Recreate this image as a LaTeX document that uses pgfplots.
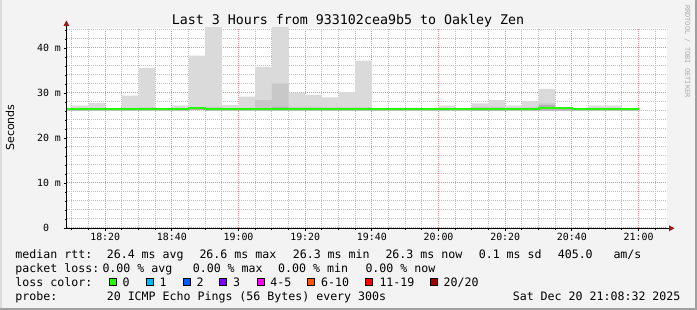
\documentclass[border=0pt]{standalone}
\usepackage{fontspec}
\setmainfont{DejaVu Sans Mono}
\newfontfamily\dvsans{DejaVu Sans}
\usepackage{xcolor}
\usepackage{pgfplots}
\pgfplotsset{compat=1.18}
\usepackage{pgfplotstable}
\usepgfplotslibrary{fillbetween}

\definecolor{bg}{HTML}{F3F3F3}
\definecolor{bordark}{HTML}{A0A0A0}
\definecolor{borlight}{HTML}{DCDCDC}
\definecolor{majgrid}{HTML}{F28888}
\definecolor{mingrid}{HTML}{BEBEBE}
\definecolor{arrowred}{HTML}{9B1C1C}
\definecolor{smokeA}{HTML}{DADADA}
\definecolor{smokeB}{HTML}{C8C8C8}
\definecolor{smokeC}{HTML}{B2B2B2}
\definecolor{credit}{HTML}{ADADAD}
\definecolor{lc0}{HTML}{26FF00}
\definecolor{lc1}{HTML}{00B8FF}
\definecolor{lc2}{HTML}{0059FF}
\definecolor{lc3}{HTML}{7E00FF}
\definecolor{lc4}{HTML}{FF00FF}
\definecolor{lc6}{HTML}{FF5500}
\definecolor{lc11}{HTML}{FF0000}
\definecolor{lc20}{HTML}{A10000}
\pagecolor{bg}

\newcommand\tfont{\fontsize{13.3bp}{15bp}\selectfont}
\newcommand\lfont{\fontsize{11.6bp}{13bp}\selectfont}
\newcommand\kfont{\fontsize{9.9bp}{11bp}\selectfont}

% m = bin start (minutes after 18:00), values in ms
\pgfplotstableread{
m   lo    hi    mid   dk    med
5   26.1  26.7  26.5  26.3  26.40
10  26.1  27.2  26.6  26.3  26.40
15  26.1  27.8  26.7  26.3  26.40
20  26.1  26.6  26.5  26.3  26.35
25  26.1  29.4  26.7  26.3  26.35
30  26.1  35.6  26.8  26.4  26.40
35  26.1  26.7  26.5  26.3  26.40
40  26.1  27.2  26.6  26.3  26.40
45  26.2  38.3  26.8  26.5  26.65
50  26.1  50.0  26.9  26.5  26.45
55  26.1  27.3  26.6  26.3  26.40
60  26.1  29.2  26.7  26.4  26.40
65  26.1  35.8  28.4  26.6  26.45
70  26.1  50.0  32.1  26.9  26.45
75  26.1  30.1  26.9  26.5  26.45
80  26.1  29.6  26.9  26.5  26.45
85  26.1  29.0  26.8  26.5  26.45
90  26.1  30.2  26.8  26.5  26.45
95  26.1  37.2  26.8  26.5  26.45
100 26.1  26.7  26.5  26.3  26.40
105 26.1  26.7  26.7  26.4  26.40
110 26.1  26.7  26.7  26.4  26.40
115 26.1  26.7  26.6  26.3  26.40
120 26.1  27.2  26.6  26.3  26.40
125 26.1  26.7  26.5  26.3  26.40
130 26.0  27.7  26.9  26.6  26.55
135 26.0  28.4  26.9  26.5  26.55
140 26.1  27.2  26.6  26.3  26.40
145 26.1  28.2  26.8  26.5  26.40
150 26.1  30.9  27.7  27.3  26.60
155 26.1  26.7  26.7  26.5  26.60
160 26.1  26.7  26.5  26.3  26.35
165 26.1  27.2  26.5  26.3  26.35
170 26.1  27.2  26.5  26.3  26.35
175 26.1  26.7  26.5  26.3  26.35
180 26.1  26.7  26.5  26.3  26.35
}\smoke

\begin{document}
\begin{tikzpicture}
\path (0,0) rectangle (697bp,310bp);

\begin{axis}[
  at={(67bp,82bp)}, anchor=south west, scale only axis,
  width=600bp, height=200bp,
  xmin=8.5333, xmax=188.5333, ymin=0, ymax=44.4444,
  axis x line=bottom, axis y line=left,
  axis line style={draw=none},
  axis background/.style={fill=white},
  xtick={20,40,...,180},
  xticklabels={18:20,18:40,19:00,19:20,19:40,20:00,20:20,20:40,21:00},
  minor xtick={10,15,25,30,35,45,50,55,65,70,75,85,90,95,105,110,115,125,130,135,145,150,155,165,170,175,185},
  ytick={0,10,20,30,40},
  yticklabels={0\phantom{~m},10~m,20~m,30~m,40~m},
  minor ytick={2,4,6,8,12,14,16,18,22,24,26,28,32,34,36,38,42,44},
  grid=both,
  major grid style={draw=majgrid, line width=1bp, dash pattern=on 1bp off 1bp},
  minor grid style={draw=mingrid, line width=1bp, dash pattern=on 1bp off 1bp},
  tick align=outside,
  major tick length=3.5bp, minor tick length=2bp,
  tick style={black, line width=0.8bp},
  ticklabel style={font=\kfont, inner sep=0pt},
  xticklabel style={anchor=north, yshift=-1.8bp},
  yticklabel style={anchor=east, xshift=-2.4bp},
]
\addplot[name path=lo, draw=none, const plot mark left] table[x=m,y=lo]{\smoke};
\addplot[name path=hi, draw=none, const plot mark left] table[x=m,y=hi]{\smoke};
\addplot[name path=mid, draw=none, const plot mark left] table[x=m,y=mid]{\smoke};
\addplot[name path=dk, draw=none, const plot mark left] table[x=m,y=dk]{\smoke};
\addplot[smokeA, draw=none] fill between[of=hi and lo];
\addplot[smokeB, draw=none] fill between[of=mid and lo];
\addplot[smokeC, draw=none] fill between[of=dk and lo];
\addplot[lc0, line width=2bp, const plot mark left] table[x=m,y=med]{\smoke};
\end{axis}

% frame
\fill[bordark] (695bp,0) rectangle (697bp,310bp);
\fill[bordark] (0,0) rectangle (697bp,2bp);
\fill[borlight] (0,2bp) rectangle (2bp,310bp);

% axis lines with arrows
\draw[black, line width=1bp] (66.4bp,81.7bp) -- (66.4bp,285bp);
\fill[arrowred] (66.4bp,289.5bp) -- (63.4bp,284bp) -- (69.4bp,284bp) -- cycle;
\draw[black, line width=1bp] (65.9bp,81.7bp) -- (670bp,81.7bp);
\fill[arrowred] (674.5bp,81.7bp) -- (669bp,84.7bp) -- (669bp,78.7bp) -- cycle;

% title
\node[anchor=base, inner sep=0pt, font=\tfont] at (348bp,285.7bp) {Last 3 Hours from 933102cea9b5 to Oakley Zen};
% y label
\node[anchor=base, rotate=90, inner sep=0pt, font=\dvsans\fontsize{11bp}{13bp}\selectfont] at (14bp,182.5bp) {Seconds};
% credit
\node[rotate=-90, inner sep=0pt, text=credit, font=\fontsize{7bp}{8bp}\selectfont] at (687.3bp,258.5bp) {RRDTOOL / TOBI OETIKER};

% legend rows
\begin{scope}[every node/.style={anchor=base west, inner sep=0pt, font=\lfont}]
\node at (15.3bp,51.8bp) {median rtt:};
\node at (106.6bp,51.8bp) {26.4 ms avg};
\node at (199.3bp,51.8bp) {26.6 ms max};
\node at (292.6bp,51.8bp) {26.3 ms min};
\node at (385.3bp,51.8bp) {26.3 ms now};
\node at (478.6bp,51.8bp) {0.1 ms sd};
\node at (557.6bp,51.8bp) {405.0};
\node at (613.3bp,51.8bp) {am/s};

\node at (15.3bp,37.8bp) {packet loss:};
\node at (102.3bp,37.8bp) {0.00 \% avg};
\node at (192.6bp,37.8bp) {0.00 \% max};
\node at (278bp,37.8bp) {0.00 \% min};
\node at (365.3bp,37.8bp) {0.00 \% now};

\node at (15.3bp,23.9bp) {loss color:};
\node at (122.4bp,23.9bp) {0};
\node at (159.4bp,23.9bp) {1};
\node at (196.4bp,23.9bp) {2};
\node at (233bp,23.9bp) {3};
\node at (270.2bp,23.9bp) {4-5};
\node at (321bp,23.9bp) {6-10};
\node at (379.3bp,23.9bp) {11-19};
\node at (443.5bp,23.9bp) {20/20};

\node at (15.3bp,9.9bp) {probe:};
\node at (106.6bp,9.9bp) {20 ICMP Echo Pings (56 Bytes) every 300s};
\node at (512.6bp,9.9bp) {Sat Dec 20 21:08:32 2025};
\end{scope}

% loss colour boxes
\foreach \bx/\cc in {108.7/lc0,145.7/lc1,182.7/lc2,219.3/lc3,256.7/lc4,307.3/lc6,365/lc11,430/lc20}{
  \filldraw[fill=\cc, draw=black, line width=0.9bp] (\bx bp+0.5bp,24.3bp) rectangle (\bx bp+7.5bp,31.3bp);
}
\end{tikzpicture}
\end{document}
